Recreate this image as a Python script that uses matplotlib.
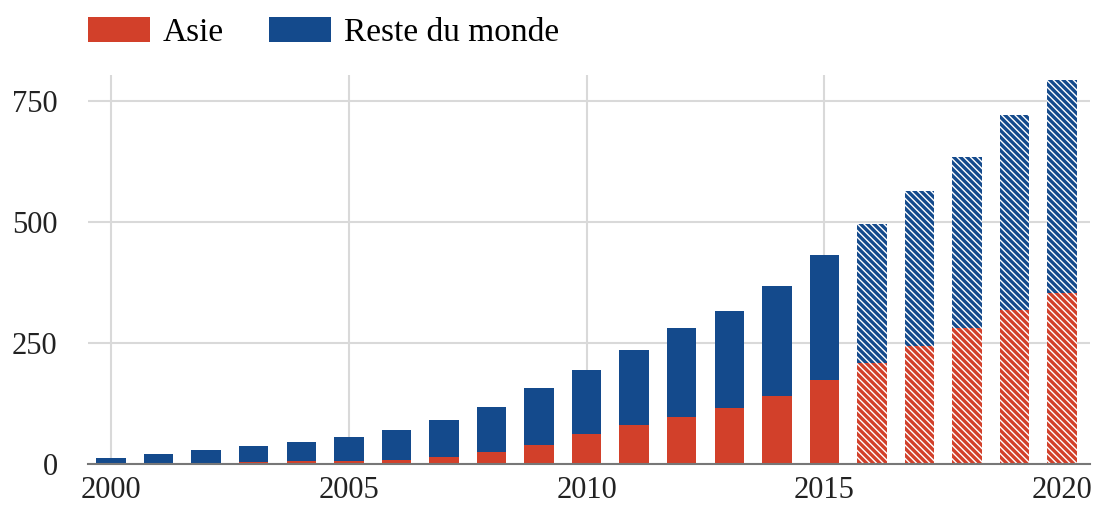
import numpy as np
import matplotlib
matplotlib.use("Agg")
import matplotlib.pyplot as plt
from matplotlib.patches import Patch

# Data; 2016-2020 are projections (hatched)
years = list(range(2000, 2021))
asie = [0, 1, 2, 3, 5, 7, 9, 15, 25, 40, 62, 80, 97, 116, 141, 174,
        208, 244, 282, 318, 353]
total = [12, 21, 29, 37, 45, 56, 70, 91, 118, 157, 195, 236, 281, 316, 368, 431,
         495, 565, 634, 721, 793]
reste = [t - a for t, a in zip(total, asie)]
first_proj = 2016

red = '#d2402a'
blue = '#144a8c'

plt.rcParams['font.family'] = ['Liberation Serif', 'DejaVu Serif']
plt.rcParams['hatch.linewidth'] = 1.0

fig = plt.figure(figsize=(11.03, 5.07), dpi=100)
ax = fig.add_axes([0.080, 0.085, 0.908, 0.767])

hist = [i for i, y in enumerate(years) if y < first_proj]
proj = [i for i, y in enumerate(years) if y >= first_proj]

def pick(arr, idx):
    return [arr[i] for i in idx]

w = 0.62
# historical bars
ax.bar(pick(years, hist), pick(asie, hist), width=w, color=red, linewidth=0)
ax.bar(pick(years, hist), pick(reste, hist), width=w, bottom=pick(asie, hist),
       color=blue, linewidth=0)
# projected bars, hatched
ax.bar(pick(years, proj), pick(asie, proj), width=w, color=red,
       edgecolor='white', linewidth=0, hatch='\\\\\\\\\\')
ax.bar(pick(years, proj), pick(reste, proj), width=w, bottom=pick(asie, proj),
       color=blue, edgecolor='white', linewidth=0, hatch='\\\\\\\\\\')

ax.set_xlim(1999.52, 2020.58)
ax.set_ylim(0, 804)
ax.set_yticks([0, 250, 500, 750])
ax.set_xticks([2000, 2005, 2010, 2015, 2020])

ax.set_axisbelow(True)
ax.grid(axis='y', color='#d9d9d9', linewidth=1.5)
for x in [2000, 2005, 2010, 2015]:
    ax.axvline(x, color='#d9d9d9', linewidth=1.5, zorder=0)

for s in ['top', 'right', 'left']:
    ax.spines[s].set_visible(False)
ax.spines['bottom'].set_color('#777777')
ax.spines['bottom'].set_linewidth(1.5)

ax.tick_params(axis='both', length=0, labelsize=22, colors='#222222')
ax.tick_params(axis='y', pad=22)
ax.tick_params(axis='x', pad=9)

handles = [Patch(facecolor=red, label='Asie'),
           Patch(facecolor=blue, label='Reste du monde')]
fig.legend(handles=handles, loc='upper left', bbox_to_anchor=(0.0798, 0.967),
           ncol=2, frameon=False, fontsize=24, handlelength=1.86,
           handleheight=0.78, handletextpad=0.39, columnspacing=1.35,
           borderpad=0, borderaxespad=0)

fig.savefig('out.png', dpi=100)
